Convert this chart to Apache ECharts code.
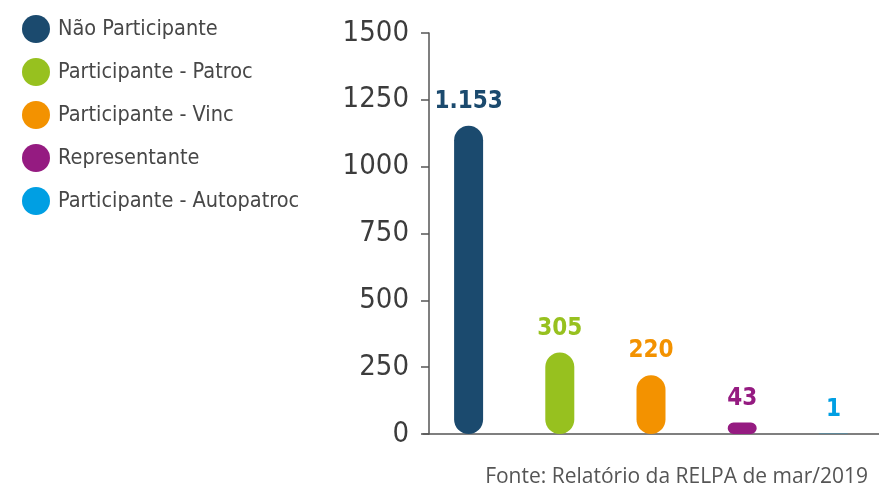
<!DOCTYPE html>
<html>
<head>
<meta charset="utf-8">
<script src="https://cdn.jsdelivr.net/npm/echarts@6/dist/echarts.min.js"></script>
<style>
html,body{margin:0;padding:0;background:#fff;}
#chart{width:879px;height:489px;}
</style>
</head>
<body>
<div id="chart"></div>
<script>
var categorias = ['Não Participante', 'Participante - Patroc', 'Participante - Vinc', 'Representante', 'Participante - Autopatroc'];
var valores = [1153, 305, 220, 43, 1];
var cores = ['#1b4a6e', '#97c11f', '#f39200', '#951b81', '#009fe3'];
var ticksY = [0, 250, 500, 750, 1000, 1250, 1500];

var fonteCond = '"DejaVu Sans Condensed", "DejaVu Sans", sans-serif';

var chart = echarts.init(document.getElementById('chart'));

// uma série por categoria, para a legenda
var series = [];
for (var i = 0; i < categorias.length; i++) {
	var d = [];
	for (var j = 0; j < categorias.length; j++) {
		d.push(j == i ? valores[i] : '-');
	}
	series.push({
		name: categorias[i],
		type: 'bar',
		stack: 'total',
		barWidth: 29,
		data: d,
		itemStyle: {color: cores[i], borderRadius: 14.5},
		label: {
			show: true,
			position: 'top',
			distance: 12,
			color: cores[i],
			fontFamily: fonteCond,
			fontWeight: 'bold',
			fontSize: 24,
			formatter: function(p) {
				return String(p.value).replace(/\B(?=(\d{3})+(?!\d))/g, '.');
			}
		}
	});
}

var option = {
	animation: false,
	legend: {
		orient: 'vertical',
		left: 17,
		top: 10,
		icon: 'circle',
		itemWidth: 28,
		itemHeight: 28,
		itemGap: 15,
		selectedMode: false,
		textStyle: {
			fontFamily: fonteCond,
			fontSize: 21.5,
			color: '#474747',
			padding: [0, 0, 0, 3]
		},
		data: categorias
	},
	grid: {left: 423, width: 457, top: 33, bottom: 55},
	xAxis: {
		type: 'category',
		data: categorias,
		axisLine: {lineStyle: {color: '#555', width: 1.5}},
		axisTick: {show: false},
		axisLabel: {show: false}
	},
	yAxis: {
		type: 'value',
		min: ticksY[0],
		max: ticksY[ticksY.length - 1],
		interval: 250,
		offset: -6,
		splitLine: {show: false},
		axisLine: {show: true, lineStyle: {color: '#555', width: 1.5}},
		axisTick: {show: true, length: 8, lineStyle: {color: '#555', width: 1.5}},
		axisLabel: {
			margin: 20,
			color: '#3c3c3c',
			fontFamily: fonteCond,
			fontSize: 29,
			formatter: function(v) { return String(v); }
		}
	},
	graphic: [{
		type: 'text',
		right: 11,
		top: 467,
		style: {
			text: 'Fonte: Relatório da RELPA de mar/2019',
			fontFamily: 'Open Sans',
			fontSize: 21,
			fill: '#555'
		}
	}],
	series: series
};
chart.setOption(option);
</script>
</body>
</html>
